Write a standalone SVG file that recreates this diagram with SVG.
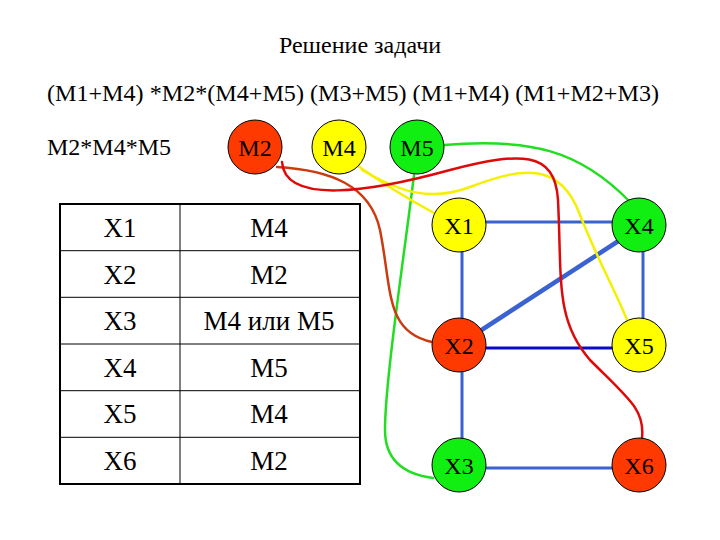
<svg xmlns="http://www.w3.org/2000/svg" width="720" height="540" viewBox="0 0 720 540">
<style>
text{font-family:"Liberation Serif","Times New Roman","DejaVu Serif",serif;fill:#000}
.hdr{font-size:24px}
.tb{font-size:27px;text-anchor:middle}
.nl{font-size:24px;text-anchor:middle}
.node{stroke:#000;stroke-width:1}
.red{fill:#ff3a00}
.yel{fill:#ffff00}
.grn{fill:#11ee11}
.edge{stroke:#3a62d0;stroke-width:3;fill:none}
.c{fill:none;stroke-width:2.5;stroke-linecap:round}
.cr{stroke:#dd0a0a}
.cb{stroke:#cc3a10}
.cy{stroke:#f5f000}
.cg{stroke:#22dd22}
.grid{stroke:#000;stroke-width:1}
</style>
<rect width="720" height="540" fill="#fff"/>
<text class="hdr" x="360" y="53" text-anchor="middle">Решение задачи</text>
<text class="hdr" x="47" y="101" textLength="612" lengthAdjust="spacingAndGlyphs">(M1+M4) *M2*(M4+M5) (M3+M5) (M1+M4) (M1+M2+M3)</text>
<text class="hdr" x="47" y="155">M2*M4*M5</text>

<g id="table">
<rect x="60" y="204" width="300" height="280" fill="#fff" stroke="#000" stroke-width="2"/>
<line class="grid" x1="180" y1="204" x2="180" y2="484"/>
<line class="grid" x1="60" y1="250.7" x2="360" y2="250.7"/>
<line class="grid" x1="60" y1="297.3" x2="360" y2="297.3"/>
<line class="grid" x1="60" y1="344" x2="360" y2="344"/>
<line class="grid" x1="60" y1="390.7" x2="360" y2="390.7"/>
<line class="grid" x1="60" y1="437.3" x2="360" y2="437.3"/>
<text class="tb" x="120" y="237">X1</text><text class="tb" x="269" y="237">M4</text>
<text class="tb" x="120" y="284">X2</text><text class="tb" x="269" y="284">M2</text>
<text class="tb" x="120" y="330">X3</text><text class="tb" x="269" y="330">M4 или M5</text>
<text class="tb" x="120" y="377">X4</text><text class="tb" x="269" y="377">M5</text>
<text class="tb" x="120" y="423">X5</text><text class="tb" x="269" y="423">M4</text>
<text class="tb" x="120" y="470">X6</text><text class="tb" x="269" y="470">M2</text>
</g>

<g id="connectors">
<line class="edge" x1="459" y1="222" x2="639" y2="222"/>
<line class="edge" x1="462" y1="225" x2="462" y2="345"/>
<line class="edge" x1="462" y1="345" x2="462" y2="465"/>
<line class="edge" x1="643" y1="225" x2="643" y2="345"/>
<line class="edge" x1="459" y1="468" x2="639" y2="468"/>
<line x1="459" y1="348" x2="639" y2="348" stroke="#0a0acc" stroke-width="3"/>
<line x1="480" y1="331" x2="620" y2="240" stroke="#3a62d0" stroke-width="4.5"/>
<path class="c cg" d="M444,145 C 530,138 580,150 630,202"/>
<path class="c cg" d="M414,175 C 405,250 385,380 385,430 C 385,465 410,475 433,478"/>
<path class="c cy" d="M358,166 C 385,185 410,200 434,213"/>
<path class="c cy" d="M362,170 C 400,192 430,202 470,187 C 520,168 560,160 580,215 C 600,265 615,290 627,320"/>
<path class="c cb" d="M277,167 C 330,170 370,185 380,230 C 392,290 385,332 432,342"/>
<path class="c cr" d="M282,162 C 285,205 370,192 450,170 C 520,152 555,150 558,200 C 562,280 555,320 590,360 C 630,400 645,410 642,438"/>
</g>

<g id="M2"><circle class="node red" cx="255" cy="147" r="27"/><text class="nl" x="255" y="156">M2</text></g>
<g id="M4"><circle class="node yel" cx="339" cy="147" r="27"/><text class="nl" x="339" y="156">M4</text></g>
<g id="M5"><circle class="node grn" cx="417" cy="147" r="27"/><text class="nl" x="417" y="156">M5</text></g>
<g id="X1"><circle class="node yel" cx="459" cy="225" r="27"/><text class="nl" x="459" y="234">X1</text></g>
<g id="X4"><circle class="node grn" cx="639" cy="225" r="27"/><text class="nl" x="639" y="234">X4</text></g>
<g id="X2"><circle class="node red" cx="459" cy="345" r="27"/><text class="nl" x="459" y="354">X2</text></g>
<g id="X5"><circle class="node yel" cx="639" cy="345" r="27"/><text class="nl" x="639" y="354">X5</text></g>
<g id="X3"><circle class="node grn" cx="459" cy="465" r="27"/><text class="nl" x="459" y="474">X3</text></g>
<g id="X6"><circle class="node red" cx="639" cy="465" r="27"/><text class="nl" x="639" y="474">X6</text></g>
</svg>
